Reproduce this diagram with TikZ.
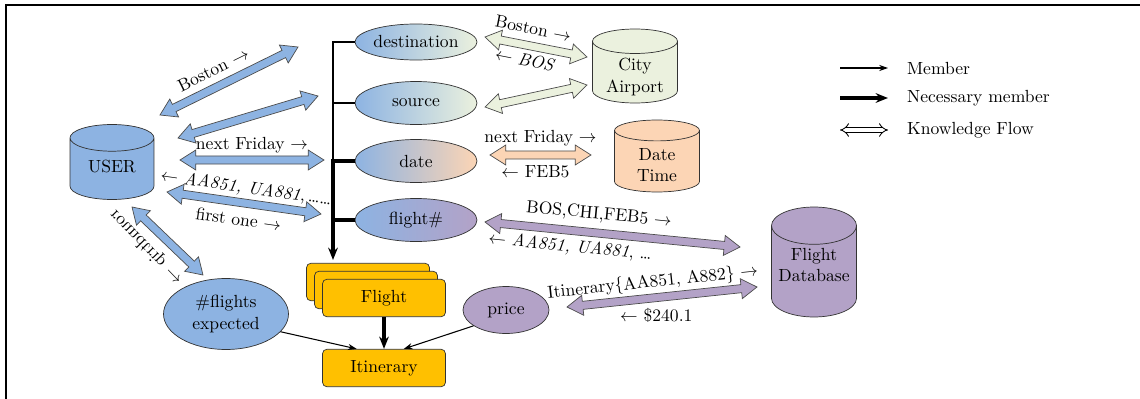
\documentclass[tikz,border=0pt]{standalone}
\usetikzlibrary{shapes.geometric,calc,arrows.meta,shadows}

\definecolor{userblue}{HTML}{8DB3E2}
\definecolor{citygreen}{HTML}{EBF1DE}
\definecolor{timepeach}{HTML}{FCD5B5}
\definecolor{dbpurple}{HTML}{B3A2C7}
\definecolor{cardgold}{HTML}{FFC000}

% fat double arrow between two named points: from, to, fill colour
\newcommand{\flowarrow}[3]{%
  \filldraw[flow, fill=#3] (#1)
    -- ($(#1)!9pt!(#2)!5.7pt!90:(#2)$)
    -- ($(#1)!9pt!(#2)!2.3pt!90:(#2)$)
    -- ($(#2)!9pt!(#1)!2.3pt!-90:(#1)$)
    -- ($(#2)!9pt!(#1)!5.7pt!-90:(#1)$)
    -- (#2)
    -- ($(#2)!9pt!(#1)!5.7pt!90:(#1)$)
    -- ($(#2)!9pt!(#1)!2.3pt!90:(#1)$)
    -- ($(#1)!9pt!(#2)!2.3pt!-90:(#2)$)
    -- ($(#1)!9pt!(#2)!5.7pt!-90:(#2)$)
    -- cycle;}

\tikzset{
  db/.style={cylinder, shape border rotate=90, aspect=0.5, draw=black!80,
    minimum width=1.7cm, align=center, inner sep=1pt, anchor=shape center},
  slot/.style={ellipse, draw=black!80, minimum width=2.44cm, minimum height=0.86cm,
    inner sep=0pt, left color=userblue},
  card/.style={rectangle, rounded corners=2.5pt, draw=black!80, fill=cardgold,
    minimum width=2.46cm, minimum height=0.75cm},
  member/.style={line width=0.6pt},
  necessary/.style={line width=2pt},
  memtip/.style={-{Stealth[length=5pt, width=3.5pt]}},
  needtip/.style={-{Stealth[length=7pt, width=5.5pt]}},
  flow/.style={draw=black!70, line width=0.4pt, line join=miter},
  lbl/.style={inner sep=1pt}
}

\begin{document}
\begin{tikzpicture}[x=0.02cm, y=-0.02cm]
\useasboundingbox (0,0) rectangle (1140,399);
\draw[line width=1.1pt] (6,399) -- (6,5) -- (1140,5);

% stores (text set on top, nearer the middle)
\path (112,162) node[db, fill=userblue, aspect=0.52, minimum width=1.68cm, minimum height=1.5cm] (user) {\phantom{USER}};
\path (635,66) node[db, fill=citygreen, aspect=0.4, minimum height=1.24cm] (city) {\phantom{City}\\\phantom{Airport}};
\path (657,156) node[db, fill=timepeach, aspect=0.48, minimum height=1.44cm] (datetime) {\phantom{Date}\\\phantom{Time}};
\path (814,262) node[db, fill=dbpurple, aspect=0.5, minimum height=2.2cm] (flightdb) {\phantom{Flight}\\\phantom{Database}};
\path (112,166) node[lbl] (usertext) {USER};
\path (635,77) node[lbl, align=center] (citytext) {City\\Airport};
\path (657,165) node[lbl, align=center] (datetimetext) {Date\\Time};
\path (814,265) node[lbl, align=center] (flightdbtext) {Flight\\Database};

% slots
\path (416,42) node[slot, right color=citygreen, minimum height=0.72cm] (destination) {destination};
\path (416,103) node[slot, right color=citygreen] (source) {source};
\path (416,161) node[slot, right color=timepeach] (date) {date};
\path (416,220) node[slot, right color=dbpurple] (flightno) {flight\#};
\path (226,314) node[ellipse, draw=black!80, fill=userblue, minimum width=2.5cm,
  minimum height=1.42cm, inner sep=0pt, align=center] (flights) {\#flights\\expected};
\path (506,310) node[ellipse, draw=black!80, fill=dbpurple, minimum width=1.72cm,
  minimum height=0.94cm, inner sep=0pt] (price) {price};

% frames
\path (384,298) node[card, double copy shadow={shadow xshift=-0.16cm, shadow yshift=0.16cm}] (flight) {Flight};
\path (384,368) node[card] (itinerary) {Itinerary};

% membership
\coordinate (trunk) at (333,260);
\draw[member] (destination.west) -- (destination.west -| trunk) -- (date.west -| trunk);
\draw[member] (source.west) -- (source.west -| trunk);
\draw[necessary, needtip] (date.west) -- (date.west -| trunk) -- (trunk);
\draw[necessary] (flightno.west) -- (flightno.west -| trunk);
\draw[necessary, needtip] (flight) -- (itinerary);
\draw[member, memtip] (flights.-18) -- (itinerary.145);
\draw[member, memtip] (price.-154) -- (itinerary.44);

% knowledge flow
\coordinate (a1) at (160,115);  \coordinate (b1) at (298,47);
\coordinate (a2) at (178,138);  \coordinate (b2) at (318,96);
\coordinate (a3) at (180,160);  \coordinate (b3) at (324,160);
\coordinate (a4) at (167,192);  \coordinate (b4) at (321,214);
\coordinate (a5) at (132,207);  \coordinate (b5) at (203,275);
\coordinate (a6) at (485,37);   \coordinate (b6) at (587,57);
\coordinate (a7) at (485,107);  \coordinate (b7) at (587,85);
\coordinate (a8) at (490,155);  \coordinate (b8) at (591,155);
\coordinate (a9) at (485,222);  \coordinate (b9) at (740,247);
\coordinate (a10) at (567,307); \coordinate (b10) at (757,287);
\flowarrow{a1}{b1}{userblue}
\flowarrow{a2}{b2}{userblue}
\flowarrow{a3}{b3}{userblue}
\flowarrow{a4}{b4}{userblue}
\flowarrow{a5}{b5}{userblue}
\flowarrow{a6}{b6}{citygreen}
\flowarrow{a7}{b7}{citygreen}
\flowarrow{a8}{b8}{timepeach}
\flowarrow{a9}{b9}{dbpurple}
\flowarrow{a10}{b10}{dbpurple}

\path (a1) -- node[lbl, sloped, pos=0.44, above=5pt] (l1) {Boston $\rightarrow$} (b1);
\path (a3) -- node[lbl, sloped, above=3pt] (l3) {next Friday $\rightarrow$} (b3);
\path (a4) -- node[lbl, sloped, above=2.6pt] (l4a) {$\leftarrow$ \textit{AA851, UA881},\,\dots\dots} (b4);
\path (a4) -- node[lbl, sloped, pos=0.48, below=4.8pt] (l4b) {first one $\rightarrow$} (b4);
\path (146,247) node[lbl, rotate=-46, yscale=-1] (l5) {roundtrip $\rightarrow$};
\path (a6) -- node[lbl, sloped, pos=0.44, above=5.4pt] (l6a) {Boston $\rightarrow$} (b6);
\path (a6) -- node[lbl, sloped, pos=0.42, below=3.5pt] (l6b) {$\leftarrow$ \textit{BOS}} (b6);
\path (a8) -- node[lbl, above=3.7pt] (l8a) {next Friday $\rightarrow$} (b8);
\path (a8) -- node[lbl, pos=0.45, below=4.8pt] (l8b) {$\leftarrow$ FEB5} (b8);
\path (a9) -- node[lbl, sloped, pos=0.44, above=4.8pt] (l9a) {BOS,CHI,FEB5 $\rightarrow$} (b9);
\path (a9) -- node[lbl, sloped, pos=0.34, below=3.7pt] (l9b) {$\leftarrow$ \textit{AA851, UA881}, \dots} (b9);
\path (a10) -- node[lbl, sloped, pos=0.46, above=2.5pt] (l10a) {Itinerary\{AA851, A882\} $\rightarrow$} (b10);
\path (a10) -- node[lbl, pos=0.47, below=4.8pt] (l10b) {$\leftarrow$ \$240.1} (b10);

% legend
\coordinate (m1) at (840,68);  \coordinate (m2) at (888,68);
\coordinate (n1) at (840,98);  \coordinate (n2) at (888,98);
\coordinate (k1) at (840,130); \coordinate (k2) at (888,130);
\draw[member, memtip] (m1) -- (m2);
\draw[necessary, needtip] (n1) -- (n2);
\draw[double, double distance=2.2pt, line width=0.5pt, {Implies}-{Implies}] (k1) -- (k2);
\path (905,68) node[anchor=west, lbl] (lmember) {Member};
\path (905,98) node[anchor=west, lbl] (lnecessary) {Necessary member};
\path (905,130) node[anchor=west, lbl] (lflow) {Knowledge Flow};
\end{tikzpicture}
\end{document}
